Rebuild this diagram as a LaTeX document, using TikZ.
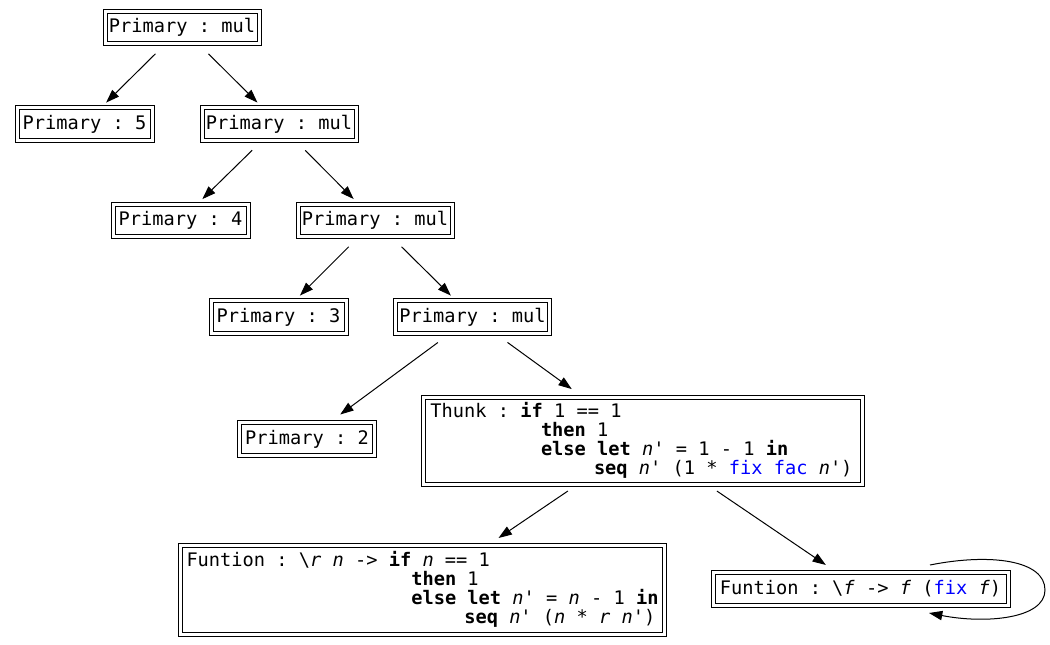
\documentclass[tikz,border=0pt]{standalone}
\usepackage{fontspec}
\setmonofont{DejaVu Sans Mono}[BoldFont={DejaVu Sans Mono Bold},ItalicFont={DejaVu Sans Mono Oblique},BoldItalicFont={DejaVu Sans Mono Bold Oblique}]
\usetikzlibrary{arrows.meta}
\definecolor{kwblue}{RGB}{0,0,255}
\newcommand\kw[1]{\textbf{#1}}
\newcommand\vr[1]{\textit{#1}}
\newcommand\bl[1]{\textcolor{kwblue}{#1}}
\newcommand\bs{\textbackslash}
\newcommand\monospaces{\spaceskip=0pt\xspaceskip=0pt\relax}
\begin{document}
\begin{tikzpicture}[x=0.75pt,y=-0.75pt,
  gbox/.style={draw,double,line width=0.75pt,double distance=2.25pt,inner sep=0pt,outer sep=0pt,
    font=\ttfamily\frenchspacing\fontsize{14}{14.25}\selectfont},
  prim/.style={gbox,minimum height=24.4pt},
  mulbox/.style={prim,minimum width=115.5pt},
  digbox/.style={prim,minimum width=101.25pt},
  codebox/.style={gbox,align=left},
  arr/.style={-{Triangle[length=10pt,width=7pt]},line width=0.75pt},
  rankedge/.style={arr,shorten <=10.7pt,shorten >=5.5pt}]
\fill[white] (0,0) rectangle (1050,645);
\useasboundingbox (0,0) rectangle (1050,645);
\node[mulbox] (m1) at (182,27.5) {Primary : mul};
\node[digbox] (p5) at (84.5,124) {Primary : 5};
\node[mulbox] (m2) at (279,124) {Primary : mul};
\node[digbox] (p4) at (180.5,220.5) {Primary : 4};
\node[mulbox] (m3) at (375,220.5) {Primary : mul};
\node[digbox] (p3) at (278.5,317) {Primary : 3};
\node[mulbox] (m4) at (472.5,317) {Primary : mul};
\node[digbox] (p2) at (307,439) {Primary : 2};
\node[codebox,minimum width=329.25pt,text width=329.25pt,minimum height=65.25pt] (thunk) at (642.5,440.5)
 {\monospaces\hspace*{5.6pt}Thunk : \kw{if} 1 == 1\\
  \hspace*{88.5pt}\kw{then} 1\\
  \hspace*{88.5pt}\kw{else} \kw{let} \vr{n}' = 1 - 1 \kw{in}\\
  \hspace*{128.25pt}\kw{seq} \vr{n}' (1 * \bl{fix} \bl{fac} \vr{n}')};
\node[codebox,minimum width=363pt,text width=363pt,minimum height=66.75pt] (f1) at (422.5,589.5)
 {\monospaces\hspace*{4.5pt}Funtion : \bs\vr{r} \vr{n} -> \kw{if} \vr{n} == 1\\
  \hspace*{173.1pt}\kw{then} 1\\
  \hspace*{173.1pt}\kw{else} \kw{let} \vr{n}' = \vr{n} - 1 \kw{in}\\
  \hspace*{212.85pt}\kw{seq} \vr{n}' (\vr{n} * \vr{r} \vr{n}')};
\node[gbox,minimum width=221.25pt,minimum height=24.75pt] (f2) at (860.5,588.5)
 {Funtion : \bs\vr{f} -> \vr{f} (\bl{fix} \vr{f})};
\draw[rankedge] (m1) -- (p5);
\draw[rankedge] (m1) -- (m2);
\draw[rankedge] (m2) -- (p4);
\draw[rankedge] (m2) -- (m3);
\draw[rankedge] (m3) -- (p3);
\draw[rankedge] (m3) -- (m4);
\draw[arr,shorten <=11.7pt,shorten >=10.4pt] (m4) -- (p2);
\draw[arr,shorten <=11.7pt,shorten >=10.1pt] (m4) -- (thunk);
\draw[arr,shorten <=9.4pt,shorten >=9.4pt] (thunk) -- (f1);
\draw[arr,shorten <=9.4pt,shorten >=9.4pt] (thunk) -- (f2);
\draw[arr] ([shift={(69.5,-23.5)}]f2.center)
  .. controls ([shift={(129.5,-35.5)}]f2.center) and ([shift={(184.5,-28.5)}]f2.center) .. ([shift={(184.5,1.5)}]f2.center)
  .. controls ([shift={(184.5,30.5)}]f2.center) and ([shift={(124.5,35.5)}]f2.center) .. ([shift={(68.5,24.5)}]f2.center);
\end{tikzpicture}
\end{document}
